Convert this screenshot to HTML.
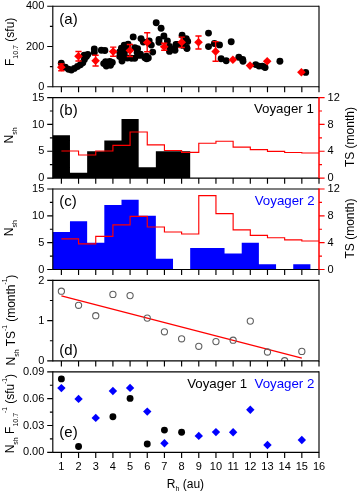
<!DOCTYPE html>
<html><head><meta charset="utf-8"><style>
html,body{margin:0;padding:0;background:#fff;}
body{width:357px;height:493px;overflow:hidden;}
svg{display:block;will-change:transform;}
text{font-family:"Liberation Sans",sans-serif;}
</style></head><body>
<svg width="357" height="493" viewBox="0 0 357 493" font-family="Liberation Sans, sans-serif">
<rect width="357" height="493" fill="#fff"/>
<circle cx="61.3" cy="63.2" r="3.45" fill="#000"/>
<circle cx="65.3" cy="67.2" r="3.45" fill="#000"/>
<circle cx="68.5" cy="69.3" r="3.45" fill="#000"/>
<circle cx="71.4" cy="70.1" r="3.45" fill="#000"/>
<circle cx="74.3" cy="68.4" r="3.45" fill="#000"/>
<circle cx="77.5" cy="66.5" r="3.45" fill="#000"/>
<circle cx="80.4" cy="64.7" r="3.45" fill="#000"/>
<circle cx="82.8" cy="62.7" r="3.45" fill="#000"/>
<circle cx="84.4" cy="59.5" r="3.45" fill="#000"/>
<circle cx="86.4" cy="56.4" r="3.45" fill="#000"/>
<circle cx="87.8" cy="54.5" r="3.45" fill="#000"/>
<circle cx="84.2" cy="55.2" r="3.45" fill="#000"/>
<circle cx="94.3" cy="49" r="3.45" fill="#000"/>
<circle cx="94.3" cy="52.5" r="3.45" fill="#000"/>
<circle cx="101.3" cy="50.3" r="3.45" fill="#000"/>
<circle cx="104.9" cy="50.5" r="3.45" fill="#000"/>
<circle cx="103.7" cy="63.6" r="3.45" fill="#000"/>
<circle cx="105.6" cy="61.6" r="3.45" fill="#000"/>
<circle cx="109.8" cy="61.4" r="3.45" fill="#000"/>
<circle cx="106.3" cy="66" r="3.45" fill="#000"/>
<circle cx="110.5" cy="65.2" r="3.45" fill="#000"/>
<circle cx="108" cy="63.5" r="3.45" fill="#000"/>
<circle cx="112.3" cy="62.4" r="3.45" fill="#000"/>
<circle cx="133.2" cy="36.9" r="3.45" fill="#000"/>
<circle cx="141" cy="38.6" r="3.45" fill="#000"/>
<circle cx="143.3" cy="42" r="3.45" fill="#000"/>
<circle cx="124.2" cy="45.3" r="3.45" fill="#000"/>
<circle cx="121.4" cy="48.1" r="3.45" fill="#000"/>
<circle cx="119.7" cy="52" r="3.45" fill="#000"/>
<circle cx="119.7" cy="56.5" r="3.45" fill="#000"/>
<circle cx="122.5" cy="58.2" r="3.45" fill="#000"/>
<circle cx="122" cy="61" r="3.45" fill="#000"/>
<circle cx="124.2" cy="53.2" r="3.45" fill="#000"/>
<circle cx="134.8" cy="47.6" r="3.45" fill="#000"/>
<circle cx="137.6" cy="48.7" r="3.45" fill="#000"/>
<circle cx="137.1" cy="52.6" r="3.45" fill="#000"/>
<circle cx="134.8" cy="58.2" r="3.45" fill="#000"/>
<circle cx="131.5" cy="58.2" r="3.45" fill="#000"/>
<circle cx="139.9" cy="55.4" r="3.45" fill="#000"/>
<circle cx="144.9" cy="57.7" r="3.45" fill="#000"/>
<circle cx="146.6" cy="58.8" r="3.45" fill="#000"/>
<circle cx="128.1" cy="44.2" r="3.45" fill="#000"/>
<circle cx="126.8" cy="49.4" r="3.45" fill="#000"/>
<circle cx="127.3" cy="58" r="3.45" fill="#000"/>
<circle cx="140.5" cy="54.3" r="3.45" fill="#000"/>
<circle cx="148.3" cy="58" r="3.45" fill="#000"/>
<circle cx="156.2" cy="22.7" r="3.45" fill="#000"/>
<circle cx="161.1" cy="28.3" r="3.45" fill="#000"/>
<circle cx="163.9" cy="36" r="3.45" fill="#000"/>
<circle cx="159" cy="39.5" r="3.45" fill="#000"/>
<circle cx="159" cy="42.3" r="3.45" fill="#000"/>
<circle cx="167.4" cy="40.9" r="3.45" fill="#000"/>
<circle cx="169.5" cy="46.5" r="3.45" fill="#000"/>
<circle cx="174.4" cy="49.3" r="3.45" fill="#000"/>
<circle cx="169.5" cy="51.4" r="3.45" fill="#000"/>
<circle cx="182.1" cy="35.3" r="3.45" fill="#000"/>
<circle cx="186.3" cy="38.8" r="3.45" fill="#000"/>
<circle cx="187" cy="48.6" r="3.45" fill="#000"/>
<circle cx="177.2" cy="44.4" r="3.45" fill="#000"/>
<circle cx="151.3" cy="45.1" r="3.45" fill="#000"/>
<circle cx="152.7" cy="52.1" r="3.45" fill="#000"/>
<circle cx="149.2" cy="40.9" r="3.45" fill="#000"/>
<circle cx="146.4" cy="56.3" r="3.45" fill="#000"/>
<circle cx="187.7" cy="41.5" r="3.45" fill="#000"/>
<circle cx="176" cy="44.4" r="3.45" fill="#000"/>
<circle cx="175" cy="50.3" r="3.45" fill="#000"/>
<circle cx="182.8" cy="45.4" r="3.45" fill="#000"/>
<circle cx="186.8" cy="47.7" r="3.45" fill="#000"/>
<circle cx="208.5" cy="33.1" r="3.45" fill="#000"/>
<circle cx="208.5" cy="46.6" r="3.45" fill="#000"/>
<circle cx="214.4" cy="43.5" r="3.45" fill="#000"/>
<circle cx="219.5" cy="44.9" r="3.45" fill="#000"/>
<circle cx="231.2" cy="41.8" r="3.45" fill="#000"/>
<circle cx="221.1" cy="58.7" r="3.45" fill="#000"/>
<circle cx="226.2" cy="60.7" r="3.45" fill="#000"/>
<circle cx="238.8" cy="57.3" r="3.45" fill="#000"/>
<circle cx="243" cy="61.2" r="3.45" fill="#000"/>
<circle cx="242.7" cy="59.4" r="3.45" fill="#000"/>
<circle cx="255.7" cy="64.6" r="3.45" fill="#000"/>
<circle cx="259" cy="66.1" r="3.45" fill="#000"/>
<circle cx="262.4" cy="66.1" r="3.45" fill="#000"/>
<circle cx="265.1" cy="67.5" r="3.45" fill="#000"/>
<circle cx="279.9" cy="61.2" r="3.45" fill="#000"/>
<circle cx="305.7" cy="72.4" r="3.45" fill="#000"/>
<path d="M61.3 63.9V70.8M58.2 63.9h6.2M58.2 70.8h6.2" stroke="#ff0000" stroke-width="1.4"/>
<path d="M61.3 62.9L65.6 67.2L61.3 71.5L57 67.2Z" fill="#ff0000"/>
<path d="M78.5 51.5V61M75.4 51.5h6.2M75.4 61h6.2" stroke="#ff0000" stroke-width="1.4"/>
<path d="M78.5 52L82.8 56.3L78.5 60.6L74.2 56.3Z" fill="#ff0000"/>
<path d="M95.6 55.2V66M92.5 55.2h6.2M92.5 66h6.2" stroke="#ff0000" stroke-width="1.4"/>
<path d="M95.6 56.5L99.9 60.8L95.6 65.1L91.3 60.8Z" fill="#ff0000"/>
<path d="M113.2 47.1V56.3M110.1 47.1h6.2M110.1 56.3h6.2" stroke="#ff0000" stroke-width="1.4"/>
<path d="M113.2 47.3L117.5 51.6L113.2 55.9L108.9 51.6Z" fill="#ff0000"/>
<path d="M129.9 44.5V56.5M126.8 44.5h6.2M126.8 56.5h6.2" stroke="#ff0000" stroke-width="1.4"/>
<path d="M129.9 46.2L134.2 50.5L129.9 54.8L125.6 50.5Z" fill="#ff0000"/>
<path d="M147.2 32.8V51.7M144.1 32.8h6.2M144.1 51.7h6.2" stroke="#ff0000" stroke-width="1.4"/>
<path d="M147.2 38.2L151.5 42.5L147.2 46.8L142.9 42.5Z" fill="#ff0000"/>
<path d="M164.2 43.3V50.2M161.1 43.3h6.2M161.1 50.2h6.2" stroke="#ff0000" stroke-width="1.4"/>
<path d="M164.2 42.5L168.5 46.8L164.2 51.1L159.9 46.8Z" fill="#ff0000"/>
<path d="M181.7 37.1V47.5M178.6 37.1h6.2M178.6 47.5h6.2" stroke="#ff0000" stroke-width="1.4"/>
<path d="M181.7 37.9L186 42.2L181.7 46.5L177.4 42.2Z" fill="#ff0000"/>
<path d="M198.5 36V49M195.4 36h6.2M195.4 49h6.2" stroke="#ff0000" stroke-width="1.4"/>
<path d="M198.5 37.9L202.8 42.2L198.5 46.5L194.2 42.2Z" fill="#ff0000"/>
<path d="M215.6 41.6V61.2M212.5 41.6h6.2M212.5 61.2h6.2" stroke="#ff0000" stroke-width="1.4"/>
<path d="M215.6 47.2L219.9 51.5L215.6 55.8L211.3 51.5Z" fill="#ff0000"/>
<path d="M232.9 55.5L237.2 59.8L232.9 64.1L228.6 59.8Z" fill="#ff0000"/>
<path d="M250 61.3L254.3 65.6L250 69.9L245.7 65.6Z" fill="#ff0000"/>
<path d="M267.2 56.9L271.5 61.2L267.2 65.5L262.9 61.2Z" fill="#ff0000"/>
<path d="M301.4 67.9L305.7 72.2L301.4 76.5L297.1 72.2Z" fill="#ff0000"/>
<path d="M52.8 86.7h-5.6M52.8 66.58h-2.9M52.8 46.45h-5.6M52.8 26.33h-2.9M52.8 6.2h-5.6" stroke="#000" stroke-width="1.15"/>
<text x="44.3" y="89.8" text-anchor="end" font-size="11" fill="#000">0</text>
<text x="44.3" y="49.55" text-anchor="end" font-size="11" fill="#000">200</text>
<text x="44.3" y="9.3" text-anchor="end" font-size="11" fill="#000">400</text>
<text x="59.3" y="23.5" font-size="15" fill="#000">(a)</text>
<text transform="translate(14.3 66) rotate(-90)" font-size="12" fill="#000" xml:space="preserve"><tspan>F</tspan><tspan font-size="7" dy="4">10.7</tspan><tspan dy="-4"> (sfu)</tspan></text>
<path d="M52.8 6.2H319" stroke="#000" stroke-width="1.15"/>
<path d="M52.8 86.7H319" stroke="#000" stroke-width="1.15"/>
<path d="M52.8 5.65V87.25" stroke="#000" stroke-width="1.15"/>
<path d="M319 5.65V87.25" stroke="#000" stroke-width="1.15"/>
<path d="M61.39 86.7v5.6M78.56 86.7v5.6M95.74 86.7v5.6M112.91 86.7v5.6M130.08 86.7v5.6M147.26 86.7v5.6M164.43 86.7v5.6M181.61 86.7v5.6M198.78 86.7v5.6M215.95 86.7v5.6M233.13 86.7v5.6M250.3 86.7v5.6M267.48 86.7v5.6M284.65 86.7v5.6M301.83 86.7v5.6M319 86.7v5.6" stroke="#000" stroke-width="1.15"/>
<path d="M52.8 178.1V135.17H69.97V172.73H87.15V151.27H104.32V140.53H121.5V119.07H138.67V167.37H155.85V151.27H173.02V151.27H190.19V178.1Z" fill="#000"/>
<path d="M61.39 151H78.56V155H95.74V151H112.91V145.4H130.08V132H147.26V144.9H164.43V150.5H181.61V152.4H198.78V143.2H215.95V141.2H233.13V147.1H250.3V149.6H267.48V151.4H284.65V152.5H301.83V153H319" fill="none" stroke="#ff0000" stroke-width="1.15"/>
<path d="M52.8 178.1h-5.6M52.8 164.68h-2.9M52.8 151.27h-5.6M52.8 137.85h-2.9M52.8 124.43h-5.6M52.8 111.02h-2.9M52.8 97.6h-5.6" stroke="#000" stroke-width="1.15"/>
<text x="44.3" y="181.2" text-anchor="end" font-size="11" fill="#000">0</text>
<text x="44.3" y="154.37" text-anchor="end" font-size="11" fill="#000">5</text>
<text x="44.3" y="127.53" text-anchor="end" font-size="11" fill="#000">10</text>
<text x="44.3" y="100.7" text-anchor="end" font-size="11" fill="#000">15</text>
<text x="59.3" y="114.9" font-size="15" fill="#000">(b)</text>
<text x="313.8" y="113.4" text-anchor="end" font-size="13.3" fill="#000">Voyager 1</text>
<text transform="translate(13.3 143.4) rotate(-90)" font-size="12" fill="#000" xml:space="preserve"><tspan>N</tspan><tspan font-size="7" dy="4">sh</tspan></text>
<path d="M319 178.1h5.6M319 164.68h3.0M319 151.27h5.6M319 137.85h3.0M319 124.43h5.6M319 111.02h3.0M319 97.6h5.6" stroke="#ff0000" stroke-width="1.2"/>
<text x="327.6" y="181.2" font-size="11" fill="#000">0</text>
<text x="327.6" y="154.37" font-size="11" fill="#000">4</text>
<text x="327.6" y="127.53" font-size="11" fill="#000">8</text>
<text x="327.6" y="100.7" font-size="11" fill="#000">12</text>
<text transform="translate(353.7 167.1) rotate(-90)" font-size="12" fill="#000" xml:space="preserve"><tspan>TS (month)</tspan></text>
<path d="M52.8 97.6H319" stroke="#000" stroke-width="1.15"/>
<path d="M52.8 178.1H319" stroke="#000" stroke-width="1.15"/>
<path d="M52.8 97.05V178.65" stroke="#000" stroke-width="1.15"/>
<path d="M319 97.05V178.65" stroke="#ff0000" stroke-width="1.5"/>
<path d="M61.39 178.1v5.6M78.56 178.1v5.6M95.74 178.1v5.6M112.91 178.1v5.6M130.08 178.1v5.6M147.26 178.1v5.6M164.43 178.1v5.6M181.61 178.1v5.6M198.78 178.1v5.6M215.95 178.1v5.6M233.13 178.1v5.6M250.3 178.1v5.6M267.48 178.1v5.6M284.65 178.1v5.6M301.83 178.1v5.6M319 178.1v5.6" stroke="#000" stroke-width="1.15"/>
<path d="M52.8 269.5V231.93H69.97V221.2H87.15V242.67H104.32V205.1H121.5V199.73H138.67V215.83H155.85V258.77H173.02V269.5ZM190.19 269.5V248.03H207.37V248.03H224.54V253.4H241.72V242.67H258.89V264.13H276.06V269.5ZM293.24 269.5V264.13H310.41V269.5Z" fill="#0000ff"/>
<path d="M61.39 238.8H78.56V243.8H95.74V236.3H112.91V224.8H130.08V216.4H147.26V227H164.43V232H181.61V234H198.78V195.6H215.95V213.6H233.13V229.8H250.3V235.4H267.48V237.7H284.65V239.9H301.83V241H319" fill="none" stroke="#ff0000" stroke-width="1.15"/>
<path d="M52.8 269.5h-5.6M52.8 256.08h-2.9M52.8 242.67h-5.6M52.8 229.25h-2.9M52.8 215.83h-5.6M52.8 202.42h-2.9M52.8 189h-5.6" stroke="#000" stroke-width="1.15"/>
<text x="44.3" y="272.6" text-anchor="end" font-size="11" fill="#000">0</text>
<text x="44.3" y="245.77" text-anchor="end" font-size="11" fill="#000">5</text>
<text x="44.3" y="218.93" text-anchor="end" font-size="11" fill="#000">10</text>
<text x="44.3" y="192.1" text-anchor="end" font-size="11" fill="#000">15</text>
<text x="59.3" y="206.2" font-size="15" fill="#000">(c)</text>
<text x="314.6" y="205.3" text-anchor="end" font-size="13.3" fill="#0000ff">Voyager 2</text>
<text transform="translate(13.3 236.2) rotate(-90)" font-size="12" fill="#000" xml:space="preserve"><tspan>N</tspan><tspan font-size="7" dy="4">sh</tspan></text>
<path d="M319 269.5h5.6M319 256.08h3.0M319 242.67h5.6M319 229.25h3.0M319 215.83h5.6M319 202.42h3.0M319 189h5.6" stroke="#ff0000" stroke-width="1.2"/>
<text x="327.6" y="272.6" font-size="11" fill="#000">0</text>
<text x="327.6" y="245.77" font-size="11" fill="#000">4</text>
<text x="327.6" y="218.93" font-size="11" fill="#000">8</text>
<text x="327.6" y="192.1" font-size="11" fill="#000">12</text>
<text transform="translate(353.7 258.5) rotate(-90)" font-size="12" fill="#000" xml:space="preserve"><tspan>TS (month)</tspan></text>
<path d="M52.8 189H319" stroke="#000" stroke-width="1.15"/>
<path d="M52.8 269.5H319" stroke="#000" stroke-width="1.15"/>
<path d="M52.8 188.45V270.05" stroke="#000" stroke-width="1.15"/>
<path d="M319 188.45V270.05" stroke="#ff0000" stroke-width="1.5"/>
<path d="M61.39 269.5v5.6M78.56 269.5v5.6M95.74 269.5v5.6M112.91 269.5v5.6M130.08 269.5v5.6M147.26 269.5v5.6M164.43 269.5v5.6M181.61 269.5v5.6M198.78 269.5v5.6M215.95 269.5v5.6M233.13 269.5v5.6M250.3 269.5v5.6M267.48 269.5v5.6M284.65 269.5v5.6M301.83 269.5v5.6M319 269.5v5.6" stroke="#000" stroke-width="1.15"/>
<defs><clipPath id="cd"><rect x="52.8" y="280.4" width="266.2" height="80.5"/></clipPath></defs>
<path d="M61.39 295.9L301.83 358.2" stroke="#ff0000" stroke-width="1.2"/>
<g clip-path="url(#cd)"><circle cx="61.39" cy="291.2" r="3.1" fill="none" stroke="#606060" stroke-width="1.1"/><circle cx="78.56" cy="305.3" r="3.1" fill="none" stroke="#606060" stroke-width="1.1"/><circle cx="95.74" cy="315.7" r="3.1" fill="none" stroke="#606060" stroke-width="1.1"/><circle cx="112.91" cy="294.4" r="3.1" fill="none" stroke="#606060" stroke-width="1.1"/><circle cx="130.08" cy="295.6" r="3.1" fill="none" stroke="#606060" stroke-width="1.1"/><circle cx="147.26" cy="318.1" r="3.1" fill="none" stroke="#606060" stroke-width="1.1"/><circle cx="164.43" cy="331.8" r="3.1" fill="none" stroke="#606060" stroke-width="1.1"/><circle cx="181.61" cy="338.8" r="3.1" fill="none" stroke="#606060" stroke-width="1.1"/><circle cx="198.78" cy="346.3" r="3.1" fill="none" stroke="#606060" stroke-width="1.1"/><circle cx="215.95" cy="341.6" r="3.1" fill="none" stroke="#606060" stroke-width="1.1"/><circle cx="233.13" cy="340.2" r="3.1" fill="none" stroke="#606060" stroke-width="1.1"/><circle cx="250.3" cy="321.1" r="3.1" fill="none" stroke="#606060" stroke-width="1.1"/><circle cx="267.48" cy="352" r="3.1" fill="none" stroke="#606060" stroke-width="1.1"/><circle cx="284.65" cy="360.7" r="3.1" fill="none" stroke="#606060" stroke-width="1.1"/><circle cx="301.83" cy="351.4" r="3.1" fill="none" stroke="#606060" stroke-width="1.1"/></g>
<path d="M52.8 360.9h-5.6M52.8 340.77h-2.9M52.8 320.65h-5.6M52.8 300.52h-2.9M52.8 280.4h-5.6" stroke="#000" stroke-width="1.15"/>
<text x="44.3" y="364" text-anchor="end" font-size="11" fill="#000">0</text>
<text x="44.3" y="323.75" text-anchor="end" font-size="11" fill="#000">1</text>
<text x="44.3" y="283.5" text-anchor="end" font-size="11" fill="#000">2</text>
<text x="59.3" y="354.6" font-size="15" fill="#000">(d)</text>
<text transform="translate(14.6 365.5) rotate(-90)" font-size="12" fill="#000" xml:space="preserve"><tspan>N</tspan><tspan font-size="7" dy="4">sh</tspan><tspan dy="-4"> TS</tspan><tspan font-size="6.5" dy="-7.2">-1</tspan><tspan dy="7.2"> (month</tspan><tspan font-size="6.5" dy="-7.2">-1</tspan><tspan dy="7.2">)</tspan></text>
<path d="M52.8 280.4H319" stroke="#000" stroke-width="1.15"/>
<path d="M52.8 360.9H319" stroke="#000" stroke-width="1.15"/>
<path d="M52.8 279.85V361.45" stroke="#000" stroke-width="1.15"/>
<path d="M319 279.85V361.45" stroke="#000" stroke-width="1.15"/>
<path d="M61.39 360.9v5.6M78.56 360.9v5.6M95.74 360.9v5.6M112.91 360.9v5.6M130.08 360.9v5.6M147.26 360.9v5.6M164.43 360.9v5.6M181.61 360.9v5.6M198.78 360.9v5.6M215.95 360.9v5.6M233.13 360.9v5.6M250.3 360.9v5.6M267.48 360.9v5.6M284.65 360.9v5.6M301.83 360.9v5.6M319 360.9v5.6" stroke="#000" stroke-width="1.15"/>
<circle cx="61.39" cy="378.9" r="3.45" fill="#000"/>
<circle cx="78.56" cy="446.5" r="3.45" fill="#000"/>
<circle cx="112.91" cy="416.8" r="3.45" fill="#000"/>
<circle cx="130.08" cy="398.4" r="3.45" fill="#000"/>
<circle cx="147.26" cy="444" r="3.45" fill="#000"/>
<circle cx="164.43" cy="430.1" r="3.45" fill="#000"/>
<circle cx="181.61" cy="432.2" r="3.45" fill="#000"/>
<path d="M61.39 383.9L65.59 388.1L61.39 392.3L57.19 388.1Z" fill="#0000ff"/>
<path d="M78.56 394.7L82.76 398.9L78.56 403.1L74.36 398.9Z" fill="#0000ff"/>
<path d="M95.74 413.7L99.94 417.9L95.74 422.1L91.54 417.9Z" fill="#0000ff"/>
<path d="M112.91 386.8L117.11 391L112.91 395.2L108.71 391Z" fill="#0000ff"/>
<path d="M130.08 383.7L134.28 387.9L130.08 392.1L125.88 387.9Z" fill="#0000ff"/>
<path d="M147.26 407.4L151.46 411.6L147.26 415.8L143.06 411.6Z" fill="#0000ff"/>
<path d="M164.43 439.1L168.63 443.3L164.43 447.5L160.23 443.3Z" fill="#0000ff"/>
<path d="M198.78 431.7L202.98 435.9L198.78 440.1L194.58 435.9Z" fill="#0000ff"/>
<path d="M215.95 427.9L220.15 432.1L215.95 436.3L211.75 432.1Z" fill="#0000ff"/>
<path d="M233.13 428L237.33 432.2L233.13 436.4L228.93 432.2Z" fill="#0000ff"/>
<path d="M250.3 405.5L254.5 409.7L250.3 413.9L246.1 409.7Z" fill="#0000ff"/>
<path d="M267.48 440.8L271.68 445L267.48 449.2L263.28 445Z" fill="#0000ff"/>
<path d="M301.83 435.8L306.03 440L301.83 444.2L297.63 440Z" fill="#0000ff"/>
<path d="M52.8 452.3h-5.6M52.8 438.88h-2.9M52.8 425.47h-5.6M52.8 412.05h-2.9M52.8 398.63h-5.6M52.8 385.22h-2.9M52.8 371.8h-5.6" stroke="#000" stroke-width="1.15"/>
<text x="44.3" y="455.4" text-anchor="end" font-size="11" fill="#000">0.00</text>
<text x="44.3" y="428.57" text-anchor="end" font-size="11" fill="#000">0.03</text>
<text x="44.3" y="401.73" text-anchor="end" font-size="11" fill="#000">0.06</text>
<text x="44.3" y="374.9" text-anchor="end" font-size="11" fill="#000">0.09</text>
<text x="59.3" y="436.6" font-size="15" fill="#000">(e)</text>
<text x="187.2" y="387.6" font-size="13.3" fill="#000">Voyager 1</text>
<text x="254.5" y="387.6" font-size="13.3" fill="#0000ff">Voyager 2</text>
<text transform="translate(14 453.3) rotate(-90)" font-size="12" fill="#000" xml:space="preserve"><tspan>N</tspan><tspan font-size="7" dy="4">sh</tspan><tspan dy="-4"> F</tspan><tspan font-size="7" dy="4">10.7</tspan><tspan font-size="6.5" dy="-11.2">-1</tspan><tspan dy="7.2"> (sfu</tspan><tspan font-size="6.5" dy="-7.2">-1</tspan><tspan dy="7.2">)</tspan></text>
<text x="61.39" y="469.9" text-anchor="middle" font-size="11" fill="#000">1</text>
<text x="78.56" y="469.9" text-anchor="middle" font-size="11" fill="#000">2</text>
<text x="95.74" y="469.9" text-anchor="middle" font-size="11" fill="#000">3</text>
<text x="112.91" y="469.9" text-anchor="middle" font-size="11" fill="#000">4</text>
<text x="130.08" y="469.9" text-anchor="middle" font-size="11" fill="#000">5</text>
<text x="147.26" y="469.9" text-anchor="middle" font-size="11" fill="#000">6</text>
<text x="164.43" y="469.9" text-anchor="middle" font-size="11" fill="#000">7</text>
<text x="181.61" y="469.9" text-anchor="middle" font-size="11" fill="#000">8</text>
<text x="198.78" y="469.9" text-anchor="middle" font-size="11" fill="#000">9</text>
<text x="215.95" y="469.9" text-anchor="middle" font-size="11" fill="#000">10</text>
<text x="233.13" y="469.9" text-anchor="middle" font-size="11" fill="#000">11</text>
<text x="250.3" y="469.9" text-anchor="middle" font-size="11" fill="#000">12</text>
<text x="267.48" y="469.9" text-anchor="middle" font-size="11" fill="#000">13</text>
<text x="284.65" y="469.9" text-anchor="middle" font-size="11" fill="#000">14</text>
<text x="301.83" y="469.9" text-anchor="middle" font-size="11" fill="#000">15</text>
<text x="319" y="469.9" text-anchor="middle" font-size="11" fill="#000">16</text>
<text x="185.5" y="487.5" text-anchor="middle" font-size="12" fill="#000">R<tspan font-size="7" dy="3.8">h</tspan><tspan dy="-3.8"> (au)</tspan></text>
<path d="M52.8 371.8H319" stroke="#000" stroke-width="1.15"/>
<path d="M52.8 452.3H319" stroke="#000" stroke-width="1.15"/>
<path d="M52.8 371.25V452.85" stroke="#000" stroke-width="1.15"/>
<path d="M319 371.25V452.85" stroke="#000" stroke-width="1.15"/>
<path d="M61.39 452.3v5.6M78.56 452.3v5.6M95.74 452.3v5.6M112.91 452.3v5.6M130.08 452.3v5.6M147.26 452.3v5.6M164.43 452.3v5.6M181.61 452.3v5.6M198.78 452.3v5.6M215.95 452.3v5.6M233.13 452.3v5.6M250.3 452.3v5.6M267.48 452.3v5.6M284.65 452.3v5.6M301.83 452.3v5.6M319 452.3v5.6" stroke="#000" stroke-width="1.15"/>
</svg>
</body></html>
